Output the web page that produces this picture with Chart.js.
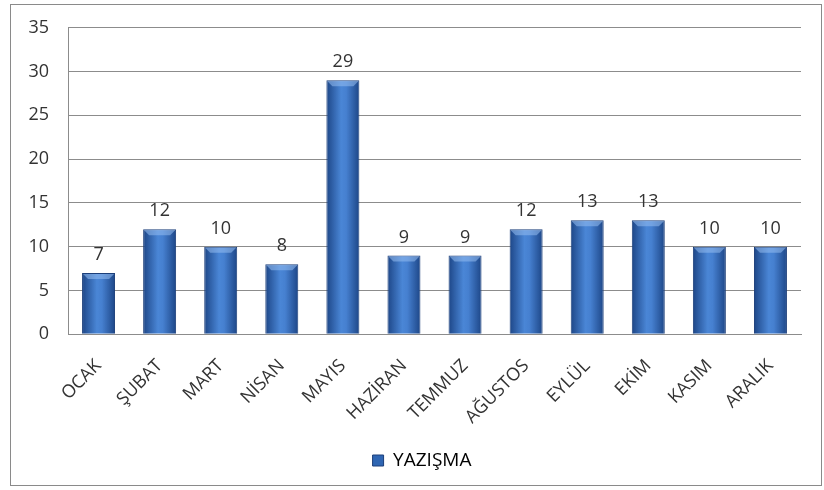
<!DOCTYPE html>
<html>
<head>
<meta charset="utf-8">
<script src="https://cdn.jsdelivr.net/npm/chart.js@4"></script>
<style>
    body { margin: 0; background: #fff; }
    #frame {
        position: absolute; left: 10px; top: 4px;
        width: 810px; height: 480px;
        border: 1.5px solid #8a8a8a; background: #fff;
    }
</style>
</head>
<body>
<div id="frame"><canvas id="myChart" width="810" height="480"></canvas></div>
<script>
const months = ["OCAK", "ŞUBAT", "MART", "NİSAN", "MAYIS", "HAZİRAN", "TEMMUZ", "AĞUSTOS", "EYLÜL", "EKİM", "KASIM", "ARALIK"];
const yazisma = [7, 12, 10, 8, 29, 9, 9, 12, 13, 13, 10, 10];
const yTicks = [0, 5, 10, 15, 20, 25, 30, 35];

const fontName = "'Open Sans', 'Liberation Sans', sans-serif";
const barPct = 0.54;

function barFill(context) {
    const chart = context.chart;
    if (!chart.chartArea) return "#3a72c4";
    const xs = chart.scales.x;
    const cx = xs.getPixelForValue(context.dataIndex);
    const w = xs.width / months.length * barPct;
    const g = chart.ctx.createLinearGradient(cx - w / 2, 0, cx + w / 2, 0);
    g.addColorStop(0, "#1d4687");
    g.addColorStop(0.45, "#4a86d6");
    g.addColorStop(0.6, "#4680d0");
    g.addColorStop(1, "#1d4687");
    return g;
}

// lighter bevel at the top of each bar + value labels
const barExtras = {
    id: "barExtras",
    afterLayout(chart) {
        // legend sits a little right of centre in the original
        if (chart.legend) {
            chart.legend.left += 16;
            chart.legend.right += 16;
        }
    },
    afterDatasetsDraw(chart) {
        const c = chart.ctx;
        const meta = chart.getDatasetMeta(0);
        meta.data.forEach((el, i) => {
            const half = el.width / 2;
            const b = 6;
            c.save();
            c.fillStyle = "rgba(150,190,240,0.55)";
            c.beginPath();
            c.moveTo(el.x - half + 1, el.y + 1);
            c.lineTo(el.x + half - 1, el.y + 1);
            c.lineTo(el.x + half - b, el.y + b);
            c.lineTo(el.x - half + b, el.y + b);
            c.closePath();
            c.fill();
            c.fillStyle = "#333";
            c.font = "18px " + fontName;
            c.textAlign = "center";
            c.textBaseline = "bottom";
            c.fillText(yazisma[i], el.x, el.y - 9);
            c.restore();
        });
    }
};

new Chart("myChart", {
    type: "bar",
    data: {
        labels: months,
        datasets: [{
            label: "YAZIŞMA",
            data: yazisma,
            backgroundColor: barFill,
            borderColor: "#1c3f7a",
            borderWidth: 1,
            categoryPercentage: 1,
            barPercentage: barPct
        }]
    },
    options: {
        responsive: false,
        animation: false,
        layout: { padding: { top: 10, right: 20, left: 0, bottom: 5 } },
        plugins: {
            legend: {
                position: "bottom",
                labels: {
                    boxWidth: 11,
                    boxHeight: 11,
                    padding: 10,
                    color: "#333",
                    font: { family: fontName, size: 19 },
                    generateLabels: () => [{
                        text: "YAZIŞMA",
                        fillStyle: "#2f66b3",
                        strokeStyle: "#1c3f7a",
                        lineWidth: 1,
                        datasetIndex: 0
                    }]
                }
            },
            tooltip: { enabled: false }
        },
        scales: {
            x: {
                grid: { display: false },
                border: { color: "#8c8c8c" },
                ticks: {
                    color: "#333",
                    font: { family: fontName, size: 18 },
                    maxRotation: 45,
                    minRotation: 45,
                    padding: 13
                }
            },
            y: {
                min: 0,
                max: 35,
                afterFit: s => { s.width = 57; },
                afterBuildTicks: s => { s.ticks = yTicks.map(v => ({ value: v })); },
                grid: { color: "#8c8c8c", drawTicks: false },
                border: { color: "#8c8c8c" },
                ticks: {
                    color: "#333",
                    font: { family: fontName, size: 18, lineHeight: 0.4 },
                    padding: 19
                }
            }
        }
    },
    plugins: [barExtras]
});
</script>
</body>
</html>
